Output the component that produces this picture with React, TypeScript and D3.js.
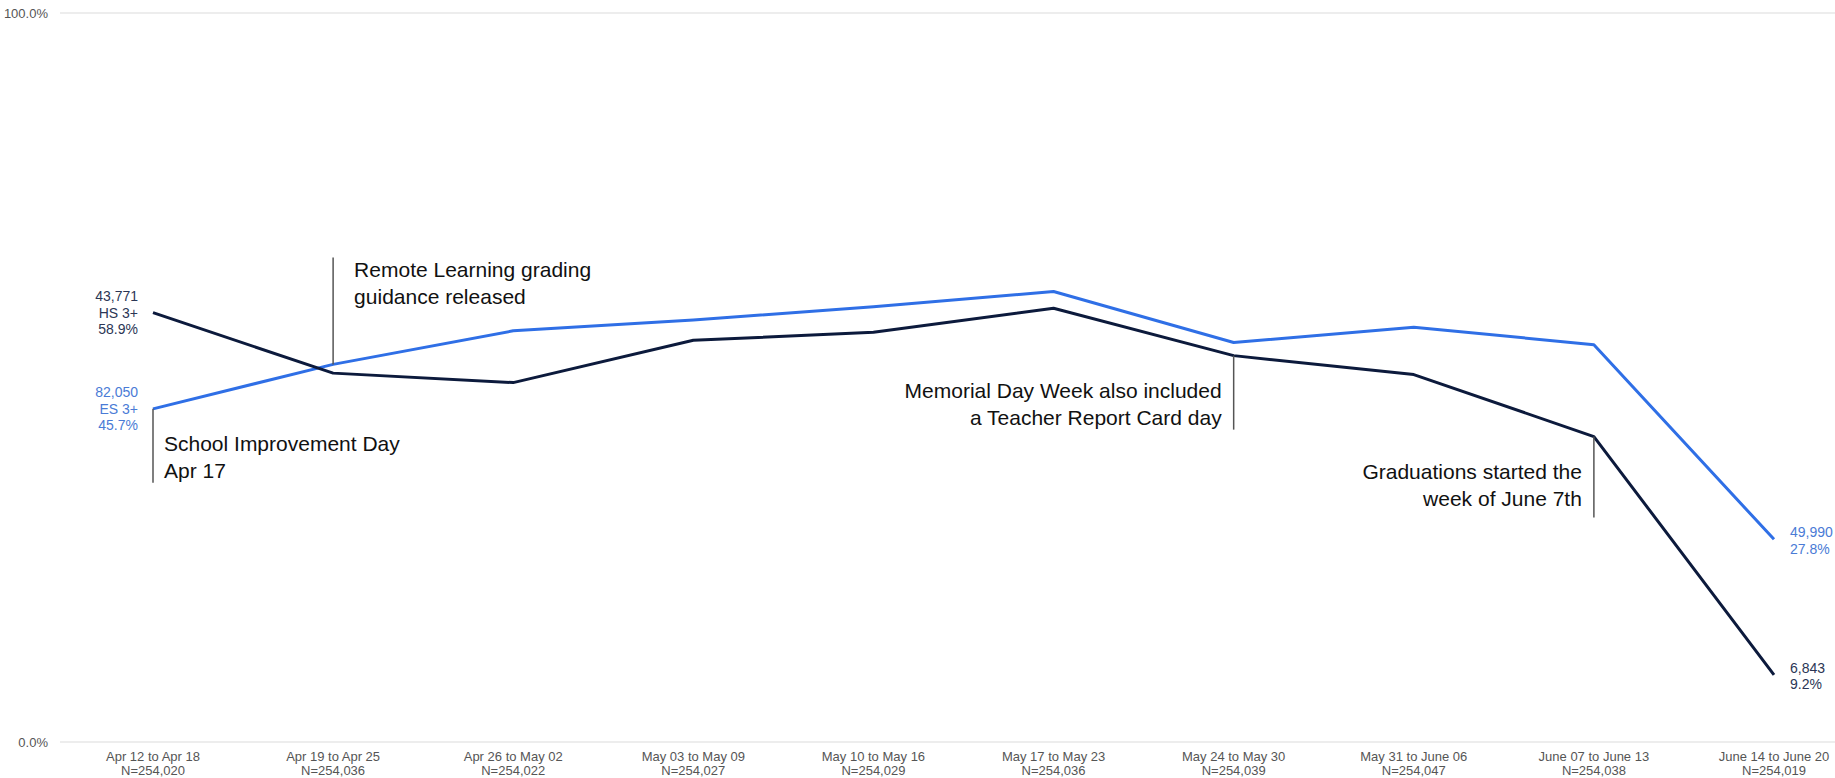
import React from "react";
import * as d3 from "d3";

const WEEKS = [
  "Apr 12 to Apr 18", "Apr 19 to Apr 25", "Apr 26 to May 02", "May 03 to May 09",
  "May 10 to May 16", "May 17 to May 23", "May 24 to May 30", "May 31 to June 06",
  "June 07 to June 13", "June 14 to June 20",
];
const N_LABELS = [
  "N=254,020", "N=254,036", "N=254,022", "N=254,027", "N=254,029",
  "N=254,036", "N=254,039", "N=254,047", "N=254,038", "N=254,019",
];
// percent of students with 3+ ... per week
const ES_VALUES = [45.7, 51.8, 56.4, 57.9, 59.7, 61.8, 54.8, 56.9, 54.5, 27.8];
const HS_VALUES = [58.9, 50.6, 49.3, 55.1, 56.2, 59.5, 53.0, 50.4, 41.9, 9.2];
const ES_COUNTS = ["82,050", "49,990"];
const HS_COUNTS = ["43,771", "6,843"];
const Y_TICKS = [0, 100];

const ANNOTATIONS = [
  { idx: 0, series: "es", lines: ["School Improvement Day", "Apr 17"], up: false, side: "right" },
  { idx: 1, series: "es", lines: ["Remote Learning grading", "guidance released"], up: true, side: "right" },
  { idx: 6, series: "hs", lines: ["Memorial Day Week also included", "a Teacher Report Card day"], up: false, side: "left" },
  { idx: 8, series: "hs", lines: ["Graduations started the", "week of June 7th"], up: false, side: "left" },
];

const W = 1835;
const H = 778;
const FONT = "'Liberation Sans', Arial, sans-serif";
const ES_COLOR = "#2f6fe6";
const HS_COLOR = "#0c1a3c";
const ES_LABEL = "#4a7bd6";
const HS_LABEL = "#2b3655";

export default function App() {
  const x = d3.scalePoint<string>().domain(WEEKS).range([153, 1774]);
  const y = d3.scaleLinear().domain([0, 100]).range([742, 13]);

  const line = d3.line<number>()
    .x((_, i) => x(WEEKS[i]) as number)
    .y(d => y(d));

  const last = WEEKS.length - 1;
  const x0 = x(WEEKS[0]) as number;
  const xN = x(WEEKS[last]) as number;

  return (
    <svg width={W} height={H} style={{ position: "absolute", left: 0, top: 0, background: "#fff" }} fontFamily={FONT}>
      {/* grid */}
      {Y_TICKS.map(t => (
        <g key={t}>
          <line x1={60} x2={W} y1={y(t)} y2={y(t)} stroke="#dcdcdc" strokeWidth={1.2} />
          <text x={48} y={y(t)} dy="0.35em" textAnchor="end" fontSize={13} fill="#555">
            {d3.format(".1f")(t)}%
          </text>
        </g>
      ))}

      {/* category labels */}
      {WEEKS.map((w, i) => (
        <text key={w} x={x(w)} textAnchor="middle" fontSize={13} fill="#555">
          <tspan x={x(w)} y={761}>{w}</tspan>
          <tspan x={x(w)} y={775}>{N_LABELS[i]}</tspan>
        </text>
      ))}

      {/* series */}
      <path d={line(ES_VALUES) || ""} fill="none" stroke={ES_COLOR} strokeWidth={3} strokeLinejoin="round" />
      <path d={line(HS_VALUES) || ""} fill="none" stroke={HS_COLOR} strokeWidth={3} strokeLinejoin="round" />

      {/* annotations */}
      {ANNOTATIONS.map((a, k) => {
        const vals = a.series === "es" ? ES_VALUES : HS_VALUES;
        const ax = x(WEEKS[a.idx]) as number;
        const ay = y(vals[a.idx]);
        const y2 = a.up ? ay - 107 : ay + (a.idx === 8 ? 81 : 74);
        const tx = a.side === "right" ? ax + (a.up ? 21 : 11) : ax - 12;
        const anchor = a.side === "right" ? "start" : "end";
        const base = a.up ? y2 + 12 : ay + 35;
        return (
          <g key={k}>
            <line x1={ax} x2={ax} y1={ay} y2={y2} stroke="#555" strokeWidth={1.5} />
            {a.lines.map((l, j) => (
              <text key={j} x={tx} y={base + j * 27} dy="0.35em" textAnchor={anchor} fontSize={21} fill="#111">
                {l}
              </text>
            ))}
          </g>
        );
      })}

      {/* left end labels */}
      {[
        { lines: [HS_COUNTS[0], "HS 3+", `${HS_VALUES[0]}%`], v: HS_VALUES[0], c: HS_LABEL },
        { lines: [ES_COUNTS[0], "ES 3+", `${ES_VALUES[0]}%`], v: ES_VALUES[0], c: ES_LABEL },
      ].map((g, k) => (
        <g key={k}>
          {g.lines.map((l, j) => (
            <text key={j} x={x0 - 15} y={y(g.v) + (j - 1) * 16.5} dy="0.35em" textAnchor="end" fontSize={14} fill={g.c}>
              {l}
            </text>
          ))}
        </g>
      ))}

      {/* right end labels */}
      {[
        { lines: [ES_COUNTS[1], `${ES_VALUES[last]}%`], v: ES_VALUES[last], c: ES_LABEL },
        { lines: [HS_COUNTS[1], `${HS_VALUES[last]}%`], v: HS_VALUES[last], c: HS_LABEL },
      ].map((g, k) => (
        <g key={k}>
          {g.lines.map((l, j) => (
            <text key={j} x={xN + 16} y={y(g.v) - 7 + j * 16.5} dy="0.35em" textAnchor="start" fontSize={14} fill={g.c}>
              {l}
            </text>
          ))}
        </g>
      ))}
    </svg>
  );
}
